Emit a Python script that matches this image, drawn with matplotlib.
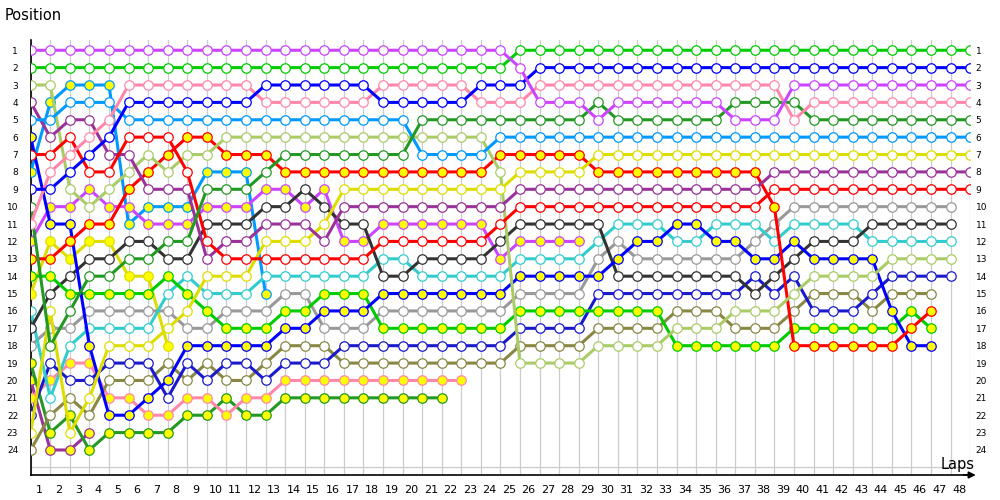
import matplotlib
matplotlib.use("Agg")
import matplotlib.pyplot as plt

# lap-by-lap positions, lap 0 = grid
violet = [1, 1, 1, 1, 1, 1, 1, 1, 1, 1, 1, 1, 1, 1, 1, 1, 1, 1, 1, 1, 1, 1, 1, 1, 1,
          2, 4, 4, 4, 5, 4, 4, 4, 4, 4, 4, 5, 5, 5, 3, 3, 3, 3, 3, 3, 3, 3, 3, 3]
green = [2, 2, 2, 2, 2, 2, 2, 2, 2, 2, 2, 2, 2, 2, 2, 2, 2, 2, 2, 2, 2, 2, 2, 2, 2,
         1, 1, 1, 1, 1, 1, 1, 1, 1, 1, 1, 1, 1, 1, 1, 1, 1, 1, 1, 1, 1, 1, 1, 1]
blue = [9, 9, 8, 7, 6, 4, 4, 4, 4, 4, 4, 4, 3, 3, 3, 3, 3, 3, 4, 4, 4, 4, 4, 3, 3,
        3, 2, 2, 2, 2, 2, 2, 2, 2, 2, 2, 2, 2, 2, 2, 2, 2, 2, 2, 2, 2, 2, 2, 2]
pink = [11, 8, 7, 6, 5, 3, 3, 3, 3, 3, 3, 3, 4, 4, 4, 4, 4, 4, 3, 3, 3, 3, 3, 4, 4,
        4, 3, 3, 3, 3, 3, 3, 3, 3, 3, 3, 3, 3, 3, 5, 4, 4, 4, 4, 4, 4, 4, 4, 4]
lightblue = [5, 5, 4, 4, 4, 5, 5, 5, 5, 5, 5, 5, 5, 5, 5, 5, 5, 5, 5, 5, 7, 7, 7, 7, 6,
             6, 6, 6, 6, 6, 6, 6, 6, 6, 6, 6, 6, 6, 6, 6, 6, 6, 6, 6, 6, 6, 6, 6, 6]
lightolive = [3, 3, 9, 10, 9, 8, 7, 8, 7, 7, 6, 6, 6, 6, 6, 6, 6, 6, 6, 6, 6, 6, 6, 6, 8,
              19, 19, 19, 19, 18, 18, 18, 18, 17, 17, 17, 16, 16, 16, 15, 14, 14, 14, 14,
              13, 13, 13, 13]
darkgreen = [10, 18, 16, 14, 14, 13, 13, 12, 12, 9, 9, 9, 8, 7, 7, 7, 7, 7, 7, 7, 5, 5, 5, 5, 5,
             5, 5, 5, 5, 4, 5, 5, 5, 5, 5, 5, 4, 4, 4, 4, 5, 5, 5, 5, 5, 5, 5, 5, 5]
red = [7, 7, 6, 8, 8, 6, 6, 6, 8, 12, 13, 13, 13, 13, 13, 13, 13, 13, 12, 12, 12, 12, 12, 12, 11,
       10, 10, 10, 10, 10, 10, 10, 10, 10, 10, 10, 10, 10, 9, 9, 9, 9, 9, 9, 9, 9, 9, 9, 9]
red_b = [13, 13, 12, 11, 11, 9, 8, 7, 6, 6, 7, 7, 7, 8, 8, 8, 8, 8, 8, 8, 8, 8, 8, 8, 7,
         7, 7, 7, 7, 8, 8, 8, 8, 8, 8, 8, 8, 8, 10, 18, 18, 18, 18, 18, 18, 17, 16]
green_b = [14, 14, 15, 15, 15, 15, 15, 14, 15, 16, 17, 17, 17, 16, 16, 15, 15, 15, 17, 17, 17, 17,
           17, 17, 17, 16, 16, 16, 16, 16, 16, 16, 16, 18, 18, 18, 18, 18, 18, 17, 17, 17, 17,
           17, 17, 16, 17]
blue_b = [6, 11, 11, 18, 22, 22, 21, 20, 18, 18, 18, 18, 18, 17, 17, 16, 16, 16, 15, 15, 15, 15,
          15, 15, 15, 14, 14, 14, 14, 14, 13, 12, 12, 11, 11, 12, 12, 13, 13, 12, 13, 13, 13,
          13, 16, 18, 18]
lightblue_b = [8, 4, 3, 3, 3, 11, 10, 10, 10, 8, 8, 8, 15]
violet_b = [12, 10, 10, 9, 10, 10, 11, 11, 11, 10, 10, 10, 9, 9, 10, 9, 12, 12, 11, 11, 11, 11,
            11, 11, 13, 12, 12, 12, 12]
darkgray = [17, 15, 14, 13, 13, 12, 12, 13, 13, 11, 11, 11, 10, 10, 9, 10, 11, 11, 14, 14, 13, 13,
            13, 13, 12, 11, 11, 11, 11, 11, 14, 14, 14, 14, 14, 14, 14, 15, 14, 13, 12, 12, 12,
            11, 11, 11, 11, 11]
purple = [4, 6, 5, 5, 7, 7, 9, 9, 9, 13, 12, 12, 11, 11, 11, 12, 10, 10, 10, 10, 10, 10, 10, 10, 10,
          9, 9, 9, 9, 9, 9, 9, 9, 9, 9, 9, 9, 9, 8, 8, 8, 8, 8, 8, 8, 8, 8, 8, 8]
cyan = [16, 21, 18, 17, 17, 17, 17, 15, 14, 15, 15, 15, 14, 14, 14, 14, 14, 14, 13, 13, 14, 14,
        14, 14, 14, 13, 13, 13, 13, 12, 11, 11, 11, 12, 12, 11, 11, 11, 12, 11, 11, 11, 11,
        12, 12, 12, 12, 12]
gray = [18, 17, 17, 16, 16, 16, 16, 16, 17, 17, 16, 16, 16, 15, 15, 17, 17, 17, 16, 16, 16, 16,
        16, 16, 16, 15, 15, 15, 15, 13, 12, 13, 13, 13, 13, 13, 13, 12, 11, 10, 10, 10, 10,
        10, 10, 10, 10, 10]
darkgreen_b = [19, 23, 22, 24, 23, 23, 23, 23, 22, 22, 21, 22, 22, 21, 21, 21, 21, 21, 21, 21, 21, 21]
purple_b = [20, 24, 24, 23]
pink_b = [21, 20, 19, 19, 21, 21, 22, 22, 21, 21, 22, 21, 21, 20, 20, 20, 20, 20, 20, 20, 20, 20, 20]
navy = [22, 19, 20, 20, 19, 19, 19, 21, 19, 20, 19, 19, 20, 19, 19, 19, 18, 18, 18, 18, 18, 18,
        18, 18, 18, 17, 17, 17, 17, 15, 15, 15, 15, 15, 15, 15, 15, 14, 15, 14, 16, 16, 16,
        15, 14, 14, 14, 14]
olive = [24, 22, 21, 22, 20, 20, 20, 19, 20, 19, 20, 20, 19, 18, 18, 18, 19, 19, 19, 19, 19, 19,
         19, 19, 19, 18, 18, 18, 18, 17, 17, 17, 17, 16, 16, 16, 17, 17, 17, 16, 15, 15, 15,
         16, 15, 15, 15]
yellow = [23, 16, 23, 21, 18, 18, 18, 17, 16, 14, 14, 14, 12, 12, 12, 11, 9, 9, 9, 9, 9, 9, 9, 9, 9,
          8, 8, 8, 8, 7, 7, 7, 7, 7, 7, 7, 7, 7, 7, 7, 7, 7, 7, 7, 7, 7, 7, 7, 7]
yellow_b = [15, 12, 13, 12, 12, 14, 14, 18]

# (series, colour, yellow-filled markers)
drivers = [
    (purple_b, '#993399', True), (darkgreen_b, '#229922', True), (pink_b, '#ff88aa', True),
    (lightblue_b, '#0099ff', True), (yellow_b, '#dddd00', True), (violet_b, '#cc44ff', True),
    (olive, '#888844', False), (navy, '#1a1acc', False), (gray, '#999999', False),
    (cyan, '#33cccc', False), (darkgray, '#333333', False), (green_b, '#00cc00', True),
    (blue_b, '#0000ff', True), (red_b, '#ff0000', True), (lightolive, '#aacc66', False),
    (yellow, '#dddd00', False), (purple, '#993399', False), (red, '#ff0000', False),
    (lightblue, '#0099ff', False), (darkgreen, '#229922', False), (pink, '#ff88aa', False),
    (blue, '#0000ff', False), (green, '#00cc00', False), (violet, '#cc44ff', False),
]

lap_ticks = list(range(1, 49))
pos_ticks = list(range(1, 25))

fig = plt.figure(figsize=(10, 5), dpi=100)
ax = fig.add_axes([0.0307, 0.05, 0.9394, 0.87])

for series, col, filled in drivers:
    ax.plot(range(len(series)), series, color=col, lw=2.2, marker='o', ms=6.8,
            mfc='#ffff00' if filled else 'white', mec=col, mew=0.9,
            solid_joinstyle='round', zorder=3)

ax.set_xlim(0, 48)
ax.set_ylim(25.44, 0.41)

# grid on minor ticks, labels on major ticks
ax.set_xticks(range(0, 49), minor=True)
ax.set_xticks([k - 0.56 for k in lap_ticks])
ax.set_xticklabels([str(k) for k in lap_ticks], fontsize=8)
ax.set_yticks(range(1, 26), minor=True)
ax.set_yticks(pos_ticks)
ax.set_yticklabels([str(p) for p in pos_ticks], fontsize=6.5)
ax.grid(which='minor', color='#cccccc', lw=0.9, zorder=0)
ax.grid(which='major', visible=False)
ax.tick_params(which='both', length=0)
ax.tick_params(axis='x', pad=7)
ax.tick_params(axis='y', pad=9)

# position numbers repeated on the right
ax2 = ax.twinx()
ax2.set_ylim(ax.get_ylim())
ax2.set_yticks(pos_ticks)
ax2.set_yticklabels([str(p) for p in pos_ticks], fontsize=6.5)
ax2.tick_params(length=0, pad=4)
for s in ax2.spines.values():
    s.set_visible(False)

for s in ['top', 'right']:
    ax.spines[s].set_visible(False)
ax.spines['left'].set_linewidth(1.2)
ax.spines['bottom'].set_linewidth(1.2)

# axis arrow
ax.annotate('', xy=(1.009, 0), xytext=(0.99, 0), xycoords='axes fraction',
            arrowprops=dict(arrowstyle='-|>', color='black', lw=1.2, mutation_scale=10),
            annotation_clip=False)

fig.text(0.005, 0.97, 'Position', fontsize=10.5, va='center', ha='left')
fig.text(0.975, 0.07, 'Laps', fontsize=10.5, va='center', ha='right')

fig.savefig('out.png', dpi=100)
